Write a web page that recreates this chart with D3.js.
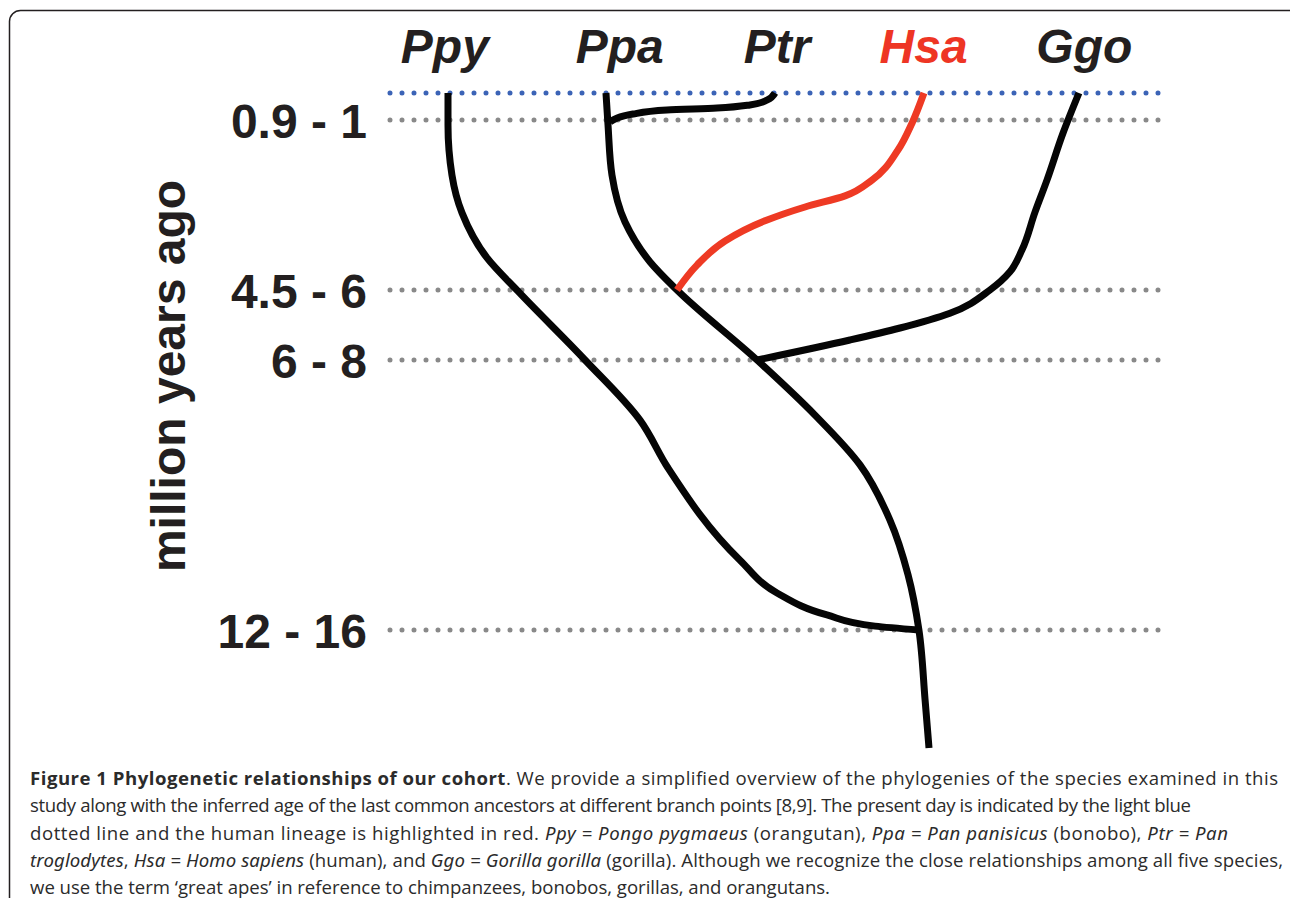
<!DOCTYPE html>
<html>
<head>
<meta charset="utf-8">
<script src="https://cdn.jsdelivr.net/npm/d3@7"></script>
<style>
  html, body { margin: 0; padding: 0; background: #fff; }
  svg { display: block; }
</style>
</head>
<body>
<svg id="chart" width="1290" height="898"></svg>
<script>
// species across the top, slot index = position in this list
var species = ['Ppy', 'Ppa', 'Ptr', 'Hsa', 'Ggo']
var speciesColors = ['#231f20', '#231f20', '#231f20', '#ee3524', '#231f20']
var labelSlots = [-0.02, 1.09, 2.09, 3.02, 4.04]

// divergence levels (million years ago)
var levelLabels = ['0.9 - 1', '4.5 - 6', '6 - 8', '12 - 16']
var levelAges = [0.95, 5.25, 7, 14]
var presentAge = 0

// branches as [slot, age] pairs, age increasing
var ppyBranch = [
  [0, 0], [0, 1.08], [0.025, 2.34], [0.089, 3.3], [0.248, 4.44], [0.444, 5.28],
  [0.87, 7], [1.219, 8.56], [1.397, 9.8], [1.854, 12.19],
  [2.089, 13.04], [2.406, 13.61], [2.711, 13.9], [2.99, 14]
]
var ppaBranch = [
  [1.003, 0], [1.016, 1.08], [1.041, 2.34], [1.124, 3.53], [1.283, 4.54], [1.454, 5.25],
  [1.962, 7], [2.33, 8.43], [2.616, 9.72], [2.806, 11.15], [2.921, 12.57],
  [2.99, 14], [3.029, 15.81], [3.054, 17.06]
]
var ptrBranch = [
  [2.076, 0], [2.025, 0.25], [1.917, 0.42], [1.708, 0.53], [1.39, 0.6],
  [1.175, 0.74], [1.029, 1.0]
]
var hsaBranch = [
  [3.022, 0], [2.946, 1.03], [2.857, 1.71], [2.692, 2.47], [2.521, 2.87],
  [2.267, 3.15], [2.013, 3.5], [1.759, 4.01], [1.581, 4.62], [1.454, 5.25]
]
var ggoBranch = [
  [4.006, 0], [3.905, 1.28], [3.803, 2.47], [3.727, 3.28], [3.644, 4.24],
  [3.568, 4.79], [3.441, 5.25], [3.187, 5.83], [2.87, 6.2], [2.552, 6.5], [1.962, 7]
]
var branches = [
  { name: 'Ppy', points: ppyBranch, human: false },
  { name: 'Ppa', points: ppaBranch, human: false },
  { name: 'Ptr', points: ptrBranch, human: false },
  { name: 'Ggo', points: ggoBranch, human: false },
  { name: 'Hsa', points: hsaBranch, human: true }
]

var captionLines = [
  [['b', 'Figure 1 Phylogenetic relationships of our cohort'], ['n', '. We provide a simplified overview of the phylogenies of the species examined in this']],
  [['n', 'study along with the inferred age of the last common ancestors at different branch points [8,9]. The present day is indicated by the light blue']],
  [['n', 'dotted line and the human lineage is highlighted in red. '], ['i', 'Ppy = Pongo pygmaeus'], ['n', ' (orangutan), '], ['i', 'Ppa = Pan panisicus'], ['n', ' (bonobo), '], ['i', 'Ptr = Pan']],
  [['i', 'troglodytes'], ['n', ', '], ['i', 'Hsa = Homo sapiens'], ['n', ' (human), and '], ['i', 'Ggo = Gorilla gorilla'], ['n', ' (gorilla). Although we recognize the close relationships among all five species,']],
  [['n', 'we use the term \u2018great apes\u2019 in reference to chimpanzees, bonobos, gorillas, and orangutans.']]
]
// where each caption line ends in the figure
var captionLineEnds = [1278, 1191, 1228, 1283, 830]

var svg = d3.select('#chart')
var labelFont = '"Liberation Sans", Arial, Helvetica, sans-serif'

// frame
svg.append('rect')
  .attr('x', 9.5).attr('y', 10.5)
  .attr('width', 1290).attr('height', 898)
  .attr('rx', 11)
  .attr('fill', 'none')
  .attr('stroke', '#231f20')
  .attr('stroke-width', 1.5)

var x = d3.scaleLinear().domain([0, 4]).range([448, 1078])
// time is drawn piecewise, like the figure (not to scale)
var y = d3.scaleLinear()
  .domain([presentAge].concat(levelAges))
  .range([93, 120, 290, 360, 630])
// past the last level keep the last slope
function yAt(age) {
  if (age <= 14) return y(age)
  return y(14) + (age - 14) * (630 - 360) / 7
}

// dotted guide lines
var dotStart = 390
var dotEnd = 1162
svg.append('line')
  .attr('x1', dotStart).attr('x2', dotEnd)
  .attr('y1', y(presentAge)).attr('y2', y(presentAge))
  .attr('stroke', '#3b63b6')
  .attr('stroke-width', 5)
  .attr('stroke-linecap', 'round')
  .attr('stroke-dasharray', '0 12')

svg.append('g')
  .selectAll('line')
  .data(levelAges)
  .enter()
  .append('line')
  .attr('x1', dotStart).attr('x2', dotEnd)
  .attr('y1', function (d) { return y(d) })
  .attr('y2', function (d) { return y(d) })
  .attr('stroke', '#898989')
  .attr('stroke-width', 5)
  .attr('stroke-linecap', 'round')
  .attr('stroke-dasharray', '0 12')

// level labels
svg.append('g')
  .selectAll('text')
  .data(levelLabels)
  .enter()
  .append('text')
  .attr('x', 367)
  .attr('y', function (d, i) { return y(levelAges[i]) + 17.5 })
  .attr('text-anchor', 'end')
  .attr('font-family', labelFont)
  .attr('font-weight', 'bold')
  .attr('font-size', 48)
  .attr('fill', '#231f20')
  .text(function (d) { return d })

// axis title
svg.append('text')
  .attr('transform', 'translate(185,376) rotate(-90)')
  .attr('text-anchor', 'middle')
  .attr('font-family', labelFont)
  .attr('font-weight', 'bold')
  .attr('font-size', 48)
  .attr('fill', '#231f20')
  .text('million years ago')

// species names
svg.append('g')
  .selectAll('text')
  .data(species)
  .enter()
  .append('text')
  .attr('x', function (d, i) { return x(labelSlots[i]) })
  .attr('y', 63)
  .attr('text-anchor', 'middle')
  .attr('font-family', labelFont)
  .attr('font-weight', 'bold')
  .attr('font-style', 'italic')
  .attr('font-size', 48)
  .attr('fill', function (d, i) { return speciesColors[i] })
  .text(function (d) { return d })

// tree
var line = d3.line()
  .x(function (d) { return x(d[0]) })
  .y(function (d) { return yAt(d[1]) })
  .curve(d3.curveMonotoneY)

svg.append('g')
  .selectAll('path')
  .data(branches)
  .enter()
  .append('path')
  .attr('d', function (d) { return line(d.points) })
  .attr('fill', 'none')
  .attr('stroke', function (d) { return d.human ? '#ee3a24' : '#050505' })
  .attr('stroke-width', 7)
  .attr('stroke-linecap', 'butt')

// caption
var captionX = 30
var caption = svg.append('g')
  .attr('font-family', '"Open Sans", "Noto Sans", sans-serif')
  .attr('font-size', 18.6)
  .attr('font-weight', 'normal')
  .attr('fill', '#2b2b2b')

captionLines.forEach(function (parts, i) {
  var t = caption.append('text')
    .attr('x', captionX)
    .attr('y', 785 + i * 27.3)
    .attr('textLength', captionLineEnds[i] - captionX)
    .attr('lengthAdjust', 'spacing')
  parts.forEach(function (p) {
    t.append('tspan')
      .attr('font-family', p[0] === 'i' ? '"Noto Sans", "Open Sans", sans-serif' : null)
      .attr('font-weight', p[0] === 'b' ? 'bold' : 'normal')
      .attr('font-style', p[0] === 'i' ? 'italic' : 'normal')
      .text(p[1])
  })
})
</script>
</body>
</html>
